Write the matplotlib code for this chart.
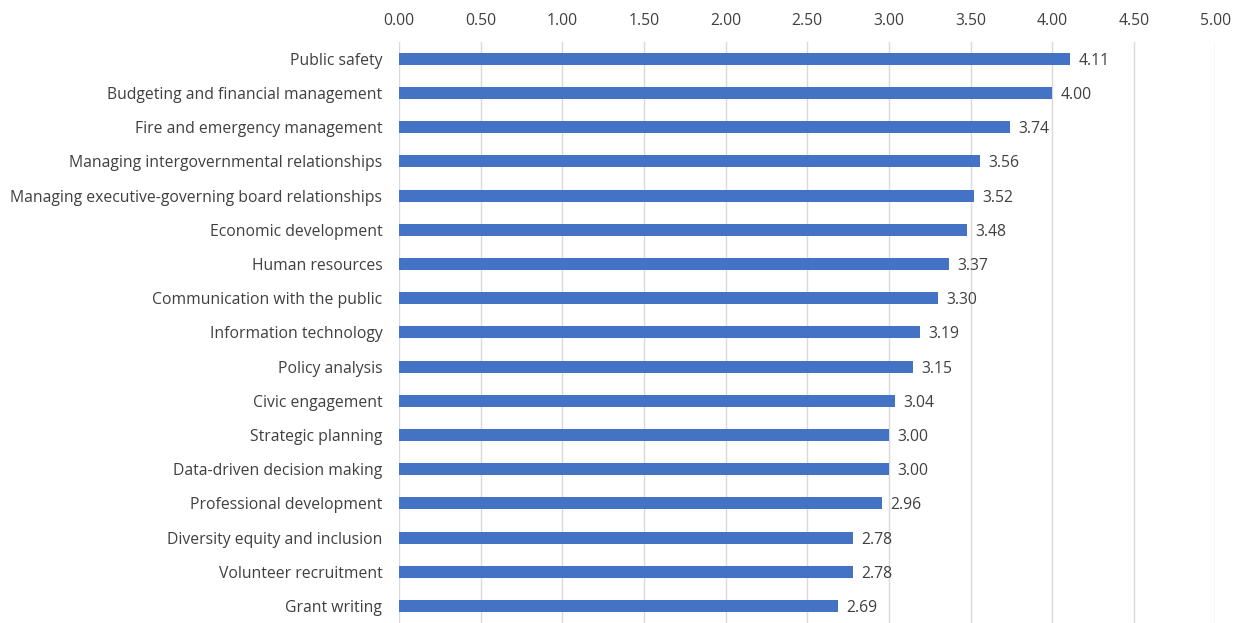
import matplotlib
matplotlib.use("Agg")
import matplotlib.pyplot as plt

categories = [
    "Public safety",
    "Budgeting and financial management",
    "Fire and emergency management",
    "Managing intergovernmental relationships",
    "Managing executive-governing board relationships",
    "Economic development",
    "Human resources",
    "Communication with the public",
    "Information technology",
    "Policy analysis",
    "Civic engagement",
    "Strategic planning",
    "Data-driven decision making",
    "Professional development",
    "Diversity equity and inclusion",
    "Volunteer recruitment",
    "Grant writing",
]
values = [4.11, 4.00, 3.74, 3.56, 3.52, 3.48, 3.37, 3.30, 3.19, 3.15, 3.04, 3.00, 3.00, 2.96, 2.78, 2.78, 2.69]
ticks = [0.0, 0.5, 1.0, 1.5, 2.0, 2.5, 3.0, 3.5, 4.0, 4.5, 5.0]

plt.rcParams['font.family'] = ['Open Sans', 'DejaVu Sans']
text_color = '#404040'
fs = 11.3

fig = plt.figure(figsize=(12.39, 6.23), dpi=100)
ax = fig.add_axes([0.322, 0.0, 0.981 - 0.322, 0.933])

ypos = list(range(len(categories)))
ax.barh(ypos, values, height=0.35, color='#4472C4', zorder=3)
for y, v in zip(ypos, values):
    ax.text(v + 0.05, y, f"{v:.2f}", va='center_baseline', ha='left', fontsize=fs, color=text_color)

ax.set_xlim(0, 5)
ax.set_ylim(len(categories) - 0.5, -0.5)
ax.set_xticks(ticks)
ax.set_xticklabels([f"{t:.2f}" for t in ticks])
ax.xaxis.tick_top()
ax.set_yticks(ypos)
ax.set_yticklabels(categories, va='center_baseline')
ax.tick_params(axis='both', length=0, labelsize=fs, labelcolor=text_color)
ax.tick_params(axis='x', pad=9)
ax.tick_params(axis='y', pad=12)
ax.grid(axis='x', color='#D9D9D9', linewidth=1, zorder=0)
for s in ax.spines.values():
    s.set_visible(False)

fig.savefig("out.png", dpi=100)
